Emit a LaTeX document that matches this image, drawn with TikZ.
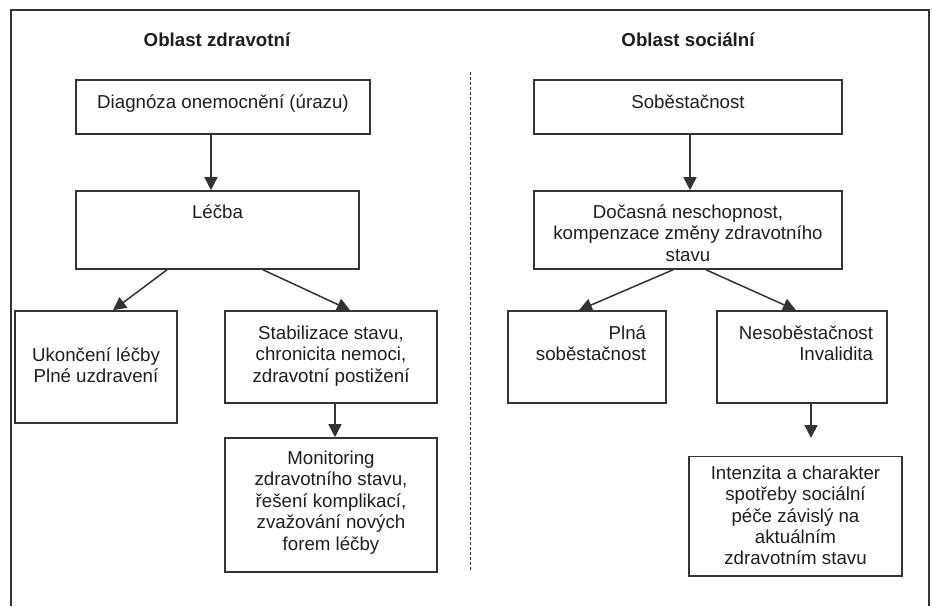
\documentclass[tikz,border=0pt]{standalone}
\usepackage{fontspec}
\setmainfont{Liberation Sans}
\usetikzlibrary{arrows.meta}
\definecolor{ln}{HTML}{333333}
\definecolor{tx}{HTML}{1E1E1E}
\newcommand{\fsz}{\fontsize{18.7}{21.4}\selectfont}
\newcommand{\ctab}[1]{\begin{tabular}[t]{@{}c@{}}#1\end{tabular}}
\newcommand{\rtab}[1]{\begin{tabular}[t]{@{\hspace{8pt}}r@{}}#1\end{tabular}}
\begin{document}
\begin{tikzpicture}[x=1pt,y=-1pt,
  box/.style={draw=ln, line width=1.6pt, inner sep=0pt, font=\fsz, text=tx, text height=0pt},
  title/.style={font=\fsz\bfseries, text=tx, anchor=base, inner sep=0pt},
  arr/.style={draw=ln, line width=1.5pt, -{Triangle[width=13pt,length=13pt]}},
  frame/.style={draw=ln, line width=1.6pt},
  sep/.style={draw=ln, line width=0.9pt, dash pattern=on 3pt off 2pt}]
\useasboundingbox (0,0) rectangle (932,606);
% frame
\coordinate (fbl) at (11,606);
\coordinate (ftl) at (11,10);
\coordinate (ftr) at (929,10);
\coordinate (fbr) at (929,606);
\draw[frame] (fbl) -- (ftl) -- (ftr) -- (fbr);
% separator
\coordinate (sept) at (470,72);
\coordinate (sepb) at (470,570);
\draw[sep] (sept) -- (sepb);
% titles
\node[title] (tz) at (217,46.5) {Oblast zdravotní};
\node[title] (ts) at (688,46.5) {Oblast sociální};
% left column
\node[box, minimum width=294pt, minimum height=54pt, text height=2.8pt, text depth=0pt] (diag) at (223,107) {\ctab{Diagnóza onemocnění (úrazu)}};
\node[box, minimum width=283pt, minimum height=78pt, text depth=23.4pt] (lecba) at (217.5,230) {\ctab{Léčba}};
\node[box, minimum width=162pt, minimum height=112pt, text depth=12pt] (ukon) at (96,367) {\ctab{Ukončení léčby\\Plné uzdravení}};
\node[box, minimum width=212pt, minimum height=92pt, text depth=35pt] (stab) at (331,357) {\ctab{Stabilizace stavu,\\chronicita nemoci,\\zdravotní postižení}};
\node[box, minimum width=212pt, minimum height=134pt, text depth=81pt] (mon) at (331,505) {\ctab{Monitoring\\zdravotního stavu,\\řešení komplikací,\\zvažování nových\\forem léčby}};
% right column
\node[box, minimum width=308pt, minimum height=54pt, text height=2.8pt, text depth=0pt] (sob) at (688,107) {\ctab{Soběstačnost}};
\node[box, minimum width=308pt, minimum height=78pt, text depth=23.4pt] (doc) at (688,230) {\ctab{Dočasná neschopnost,\\kompenzace změny zdravotního\\stavu}};
\node[box, minimum width=158pt, minimum height=92pt, text depth=35pt] (plna) at (587,357) {\rtab{Plná\\soběstačnost}};
\node[box, minimum width=170pt, minimum height=92pt, text depth=35pt] (nesob) at (802,357) {\rtab{Nesoběstačnost\\Invalidita}};
\node[box, minimum width=213pt, minimum height=119.3pt, text depth=74pt] (int) at (795.5,516.3) {\ctab{Intenzita a charakter\\spotřeby sociální\\péče závislý na\\aktuálním\\zdravotním stavu}};
\coordinate (nesobend) at (811,438);
% connectors left
\draw[arr] ([xshift=-12pt]diag.south) -- ([xshift=-12pt]diag.south |- lecba.north);
\draw[arr] ([xshift=-50.5pt]lecba.south) -- ([xshift=17pt]ukon.north);
\draw[arr] ([xshift=45.5pt]lecba.south) -- ([xshift=19pt]stab.north);
\draw[arr] ([xshift=4pt]stab.south) -- ([xshift=4pt]stab.south |- mon.north);
% connectors right
\draw[arr] ([xshift=2pt]sob.south) -- ([xshift=2pt]sob.south |- doc.north);
\draw[arr] ([xshift=-15pt]doc.south) -- ([xshift=-8pt]plna.north);
\draw[arr] ([xshift=18pt]doc.south) -- ([xshift=-6pt]nesob.north);
\draw[arr] ([xshift=9pt]nesob.south) -- (nesobend);
\end{tikzpicture}
\end{document}
